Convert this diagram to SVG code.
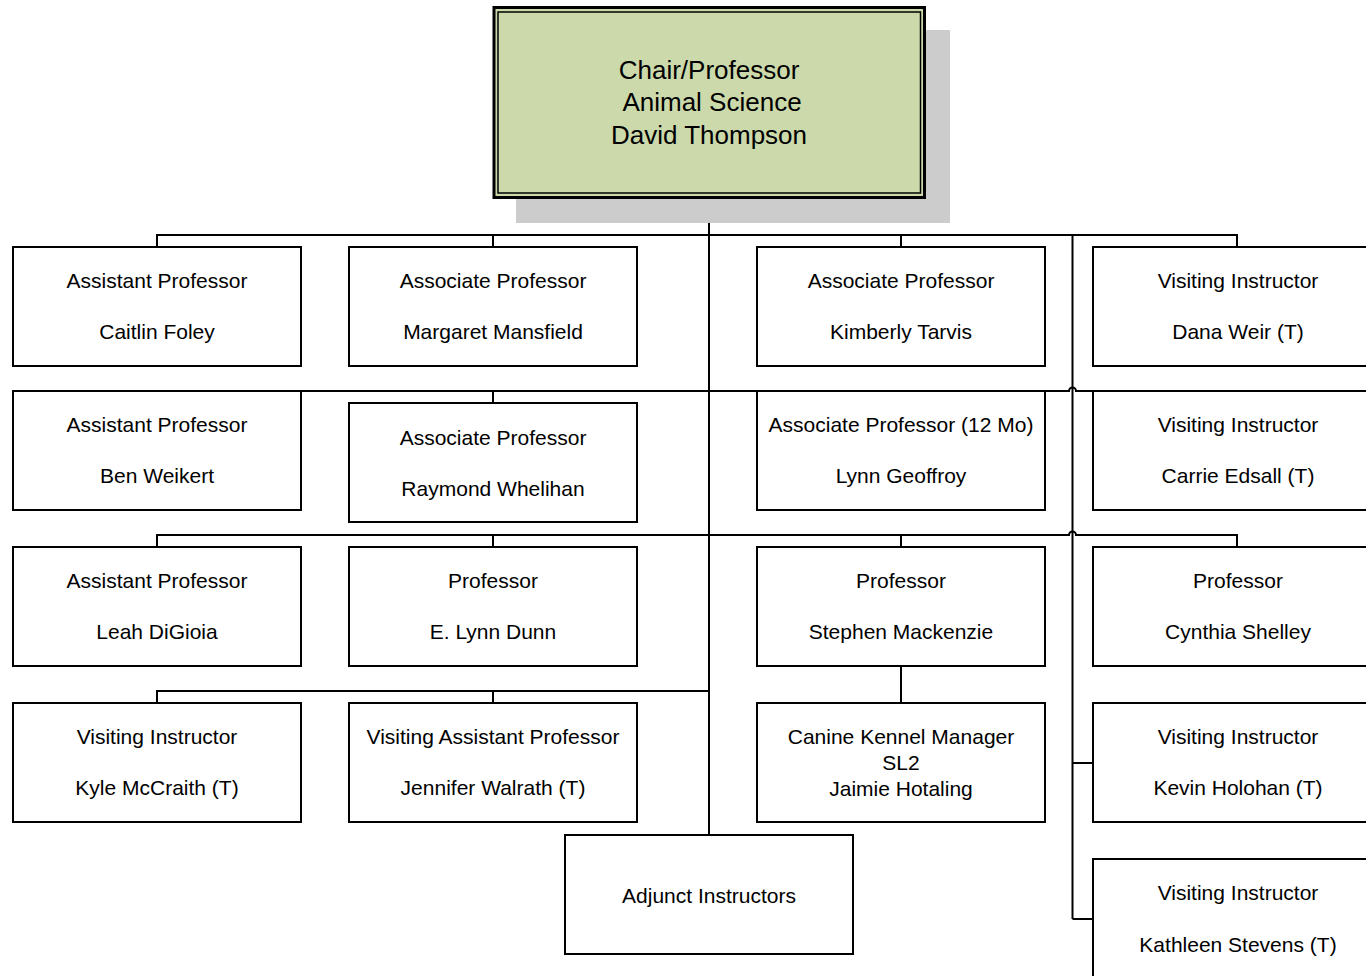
<svg xmlns="http://www.w3.org/2000/svg" width="1366" height="976" viewBox="0 0 1366 976">
<style>
.box{fill:#ffffff;stroke:#000;stroke-width:2}
.ln{fill:none;stroke:#000;stroke-width:2}
text{font-family:"Liberation Sans",Arial,sans-serif;font-size:21px;fill:#000;text-anchor:middle}
.big{font-size:26px}
</style>
<rect width="1366" height="976" fill="#ffffff"/>
<g id="connectors">
<path class="ln" d="M709 198 V835"/>
<path class="ln" d="M157 247 V235 H1237 V247 M493 235 V247 M901 235 V247"/>
<path class="ln" d="M1072.5 235 V919 M1072.5 763 H1093 M1072.5 919 H1093"/>
<path class="ln" d="M157 391 H1069 a3.5 3.5 0 0 1 7 0 H1237 M493 391 V403"/>
<path class="ln" d="M157 547 V535 H1069 a3.5 3.5 0 0 1 7 0 H1237 V547 M493 535 V547 M901 535 V547"/>
<path class="ln" d="M157 703 V691 H709 M493 691 V703"/>
<path class="ln" d="M901 666 V703"/>
</g>
<g id="chair">
<rect x="516" y="30" width="434" height="193" fill="#cccccc"/>
<rect x="494" y="7.5" width="430.5" height="190" fill="#ccdaab" stroke="#000" stroke-width="3"/>
<rect x="498" y="12" width="422.5" height="181" fill="none" stroke="#000" stroke-width="1.5"/>
<text class="big" x="709" y="79">Chair/Professor</text>
<text class="big" x="712" y="111">Animal Science</text>
<text class="big" x="709" y="144">David Thompson</text>
</g>
<g id="caitlin"><rect class="box" x="13" y="247" width="288" height="119"/><text x="157" y="288">Assistant Professor</text><text x="157" y="339">Caitlin Foley</text></g>
<g id="margaret"><rect class="box" x="349" y="247" width="288" height="119"/><text x="493" y="288">Associate Professor</text><text x="493" y="339">Margaret Mansfield</text></g>
<g id="kimberly"><rect class="box" x="757" y="247" width="288" height="119"/><text x="901" y="288">Associate Professor</text><text x="901" y="339">Kimberly Tarvis</text></g>
<g id="dana"><rect class="box" x="1093" y="247" width="288" height="119"/><text x="1238" y="288">Visiting Instructor</text><text x="1238" y="339">Dana Weir (T)</text></g>
<g id="ben"><rect class="box" x="13" y="391" width="288" height="119"/><text x="157" y="432">Assistant Professor</text><text x="157" y="483">Ben Weikert</text></g>
<g id="raymond"><rect class="box" x="349" y="403" width="288" height="119"/><text x="493" y="445">Associate Professor</text><text x="493" y="496">Raymond Whelihan</text></g>
<g id="lynn"><rect class="box" x="757" y="391" width="288" height="119"/><text x="901" y="432">Associate Professor (12 Mo)</text><text x="901" y="483">Lynn Geoffroy</text></g>
<g id="carrie"><rect class="box" x="1093" y="391" width="288" height="119"/><text x="1238" y="432">Visiting Instructor</text><text x="1238" y="483">Carrie Edsall (T)</text></g>
<g id="leah"><rect class="box" x="13" y="547" width="288" height="119"/><text x="157" y="588">Assistant Professor</text><text x="157" y="639">Leah DiGioia</text></g>
<g id="dunn"><rect class="box" x="349" y="547" width="288" height="119"/><text x="493" y="588">Professor</text><text x="493" y="639">E. Lynn Dunn</text></g>
<g id="stephen"><rect class="box" x="757" y="547" width="288" height="119"/><text x="901" y="588">Professor</text><text x="901" y="639">Stephen Mackenzie</text></g>
<g id="cynthia"><rect class="box" x="1093" y="547" width="288" height="119"/><text x="1238" y="588">Professor</text><text x="1238" y="639">Cynthia Shelley</text></g>
<g id="kyle"><rect class="box" x="13" y="703" width="288" height="119"/><text x="157" y="744">Visiting Instructor</text><text x="157" y="795">Kyle McCraith (T)</text></g>
<g id="jennifer"><rect class="box" x="349" y="703" width="288" height="119"/><text x="493" y="744">Visiting Assistant Professor</text><text x="493" y="795">Jennifer Walrath (T)</text></g>
<g id="kennel"><rect class="box" x="757" y="703" width="288" height="119"/><text x="901" y="744">Canine Kennel Manager</text><text x="901" y="770">SL2</text><text x="901" y="796">Jaimie Hotaling</text></g>
<g id="kevin"><rect class="box" x="1093" y="703" width="288" height="119"/><text x="1238" y="744">Visiting Instructor</text><text x="1238" y="795">Kevin Holohan (T)</text></g>
<g id="adjunct"><rect class="box" x="565" y="835" width="288" height="119"/><text x="709" y="903">Adjunct Instructors</text></g>
<g id="kathleen"><rect class="box" x="1093" y="859" width="288" height="119"/><text x="1238" y="900">Visiting Instructor</text><text x="1238" y="952">Kathleen Stevens (T)</text></g>
</svg>
